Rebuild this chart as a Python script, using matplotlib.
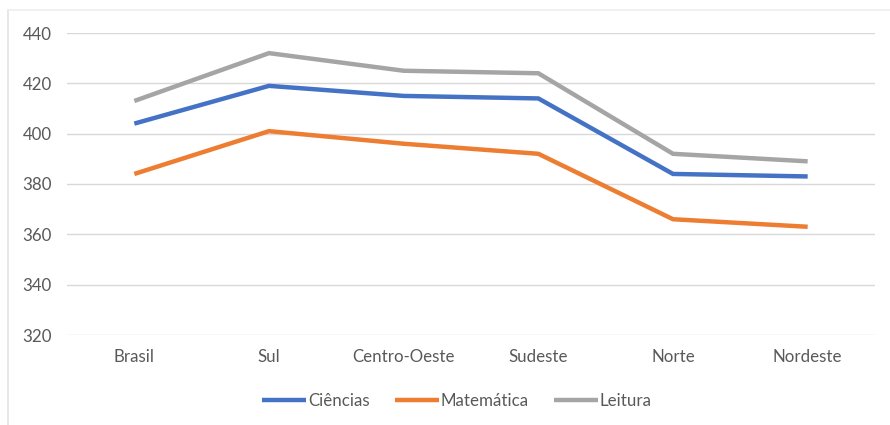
import matplotlib
matplotlib.use("Agg")
import matplotlib.pyplot as plt
from matplotlib.lines import Line2D

categories = ["Brasil", "Sul", "Centro-Oeste", "Sudeste", "Norte", "Nordeste"]
ciencias = [404, 419, 415, 414, 384, 383]
matematica = [384, 401, 396, 392, 366, 363]
leitura = [413, 432, 425, 424, 392, 389]
series_names = ["Ciências", "Matemática", "Leitura"]
yticks = [320, 340, 360, 380, 400, 420, 440]

colors = ["#4472C4", "#ED7D31", "#A5A5A5"]
plt.rcParams['font.family'] = ['Lato', 'DejaVu Sans']

fig = plt.figure(figsize=(8.9, 4.25), dpi=100)
ax = fig.add_axes([67/890, 1 - 335/425, (875-67)/890, (335-33)/425])

x = range(len(categories))
for vals, name, c in zip([ciencias, matematica, leitura], series_names, colors):
    ax.plot(list(x), vals, color=c, lw=3.2, label=name, solid_capstyle='butt', solid_joinstyle='miter')

ax.set_xlim(-0.5, len(categories) - 0.5)
ax.set_ylim(320, 440)
ax.set_yticks(yticks)
ax.set_xticks(list(x))
ax.set_xticklabels(categories)
ax.grid(axis='y', color='#D9D9D9', lw=1)
ax.set_axisbelow(True)
for s in ax.spines.values():
    s.set_visible(False)
ax.tick_params(axis='both', length=0, labelsize=12.2, labelcolor='#595959')
ax.tick_params(axis='y', pad=11)
ax.tick_params(axis='x', pad=10)

leg = fig.legend(loc='center', bbox_to_anchor=(457/890, 1 - 401/425), ncol=3, frameon=False,
                 fontsize=12.2, handlelength=2.6, handletextpad=0.1, columnspacing=1.5)
for t in leg.get_texts():
    t.set_color('#595959')

# chart border (left and top light lines)
fig.add_artist(Line2D([7.5/890, 7.5/890], [0, 1 - 10/425], transform=fig.transFigure, color='#E3E3E3', lw=1.2))
fig.add_artist(Line2D([7.5/890, 1], [1 - 10/425, 1 - 10/425], transform=fig.transFigure, color='#EDEDED', lw=1.2))

fig.savefig("out.png", dpi=100)
